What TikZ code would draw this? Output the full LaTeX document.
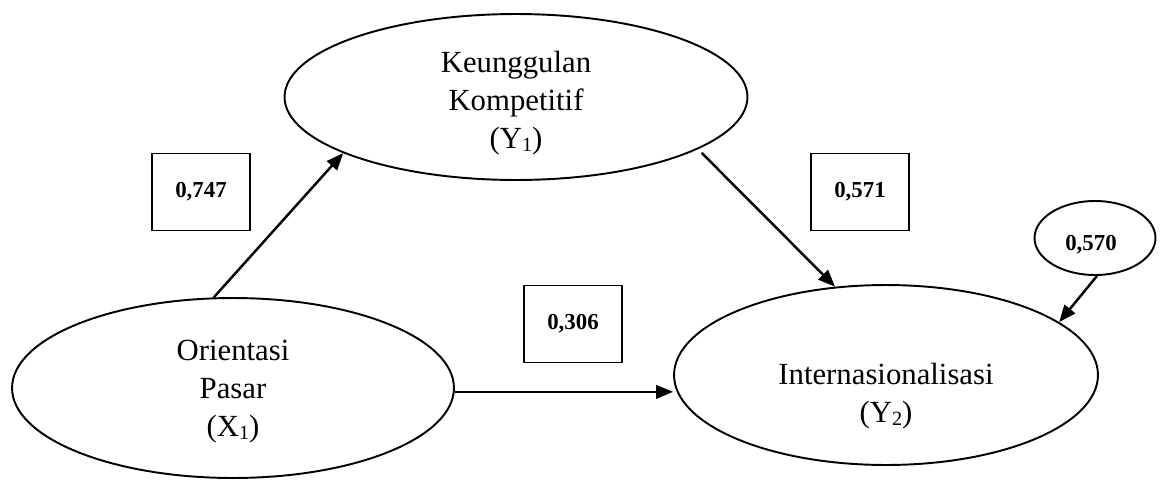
\documentclass[tikz,border=0pt]{standalone}
\usepackage{fontspec}
\setmainfont{Liberation Serif}
\usetikzlibrary{arrows.meta,%
                shapes,positioning}
\newcommand{\lowidx}[1]{\raisebox{-0.2ex}{\fontsize{11.5}{11.5}\selectfont #1}}

\begin{document}
\begin{tikzpicture}[x=0.02cm,y=-0.02cm,
  latent/.style={draw,ellipse,line width=1.1pt,inner sep=0pt},
  lbl/.style={align=center,inner sep=0pt,font=\fontsize{17.5}{21.6}\selectfont},
  coef/.style={draw,line width=1.1pt,minimum width=1.96cm,minimum height=1.54cm,
               font=\fontsize{13}{15}\selectfont\bfseries},
  link/.style={-{Triangle[length=0.34cm,width=0.27cm]},line width=1.4pt}]
\useasboundingbox (0,0) rectangle (1165,480);
% latent variables
\node[latent,minimum width=8.84cm,minimum height=3.6cm] (x1) at (233,388) {};
\node[latent,minimum width=9.26cm,minimum height=3.32cm] (y1) at (516,97) {};
\node[latent,minimum width=8.48cm,minimum height=3.6cm] (y2) at (886,375) {};
\node[latent,minimum width=2.42cm,minimum height=1.48cm] (e2) at (1095,238) {};
\node[lbl] (x1txt) at (233,392) {Orientasi\\Pasar\\(X\lowidx{1})};
\node[lbl] (y1txt) at (516,103) {Keunggulan\\Kompetitif\\(Y\lowidx{1})};
\node[lbl] (y2txt) at (886,396) {Internasionalisasi\\(Y\lowidx{2})};
\node[font=\fontsize{13}{15}\selectfont\bfseries] (e2txt) at (1091,245) {0,570};
% coefficients
\node[coef] (b1) at (201,192) {0,747};
\node[coef] (b2) at (860,192) {0,571};
\node[coef] (b3) at (573,324) {0,306};
% paths
\draw[link] (x1.102) -- (y1.198);
\draw[link,shorten <=0.1cm] (y1.344) -- (y2.120);
\draw[link] (x1.-1) -- (x1.-1 -| y2.west);
\draw[link] (e2.-87) -- (y2.17);
\end{tikzpicture}
\end{document}
